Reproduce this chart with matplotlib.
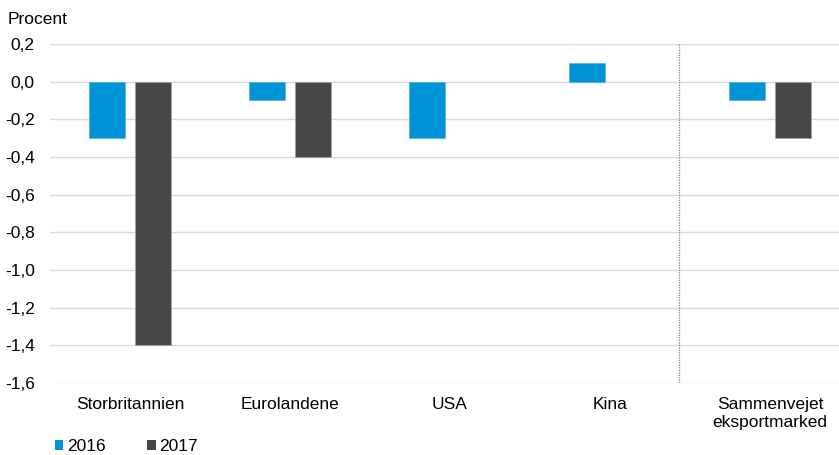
import matplotlib
matplotlib.use("Agg")
import matplotlib.pyplot as plt
import numpy as np
from matplotlib.patches import Patch

categories = ["Storbritannien", "Eurolandene", "USA", "Kina", "Sammenvejet\neksportmarked"]
values_2016 = [-0.3, -0.1, -0.3, 0.1, -0.1]
values_2017 = [-1.4, -0.4, np.nan, np.nan, -0.3]
series_names = ["2016", "2017"]
yticks = [0.2, 0.0, -0.2, -0.4, -0.6, -0.8, -1.0, -1.2, -1.4, -1.6]

plt.rcParams['font.family'] = ['Liberation Sans', 'DejaVu Sans']
fs = 12.5

fig = plt.figure(figsize=(8.39, 4.55), dpi=100)
ax = fig.add_axes([50/839, 1-383/455, (839-50)/839, (383-44)/455])

x = np.arange(len(categories))
w = 0.225
off = 0.144
c16 = "#0093d6"
c17 = "#474747"
ax.bar(x - off, values_2016, w, color=c16, edgecolor="#5ab4e0", linewidth=0.6, zorder=3)
ax.bar(x + off, values_2017, w, color=c17, edgecolor="#a0a0a0", linewidth=0.6, zorder=3)

ax.set_xlim(-0.5, (839-50)/160 - 0.5)
ax.set_ylim(-1.6, 0.2)
ax.set_yticks(yticks)
ax.set_yticklabels([f"{v:.1f}".replace(".", ",") for v in yticks], fontsize=fs)
ax.set_xticks(x)
ax.set_xticklabels(categories, fontsize=fs, linespacing=1.25)
ax.tick_params(axis='both', length=0)
ax.tick_params(axis='y', pad=11)
ax.tick_params(axis='x', pad=10)
for s in ax.spines.values():
    s.set_visible(False)
ax.yaxis.grid(True, color="#d9d9d9", linewidth=1, zorder=0)
ax.set_axisbelow(True)

ax.axvline(3.5 - 11/160, color="#808080", linestyle=(0, (1, 1)), linewidth=0.9, zorder=2)

fig.text(8/839, 1-19/455, "Procent", fontsize=fs, va="center", ha="left")

handles = [Patch(facecolor=c16, edgecolor="none"), Patch(facecolor=c17, edgecolor="none")]
fig.legend(handles, series_names, loc="lower left", bbox_to_anchor=(39/839, -15/455),
           ncol=2, frameon=False, fontsize=fs, handlelength=0.5, handleheight=0.5,
           handletextpad=0.2, columnspacing=2.4)

fig.savefig("out.png", dpi=100)
